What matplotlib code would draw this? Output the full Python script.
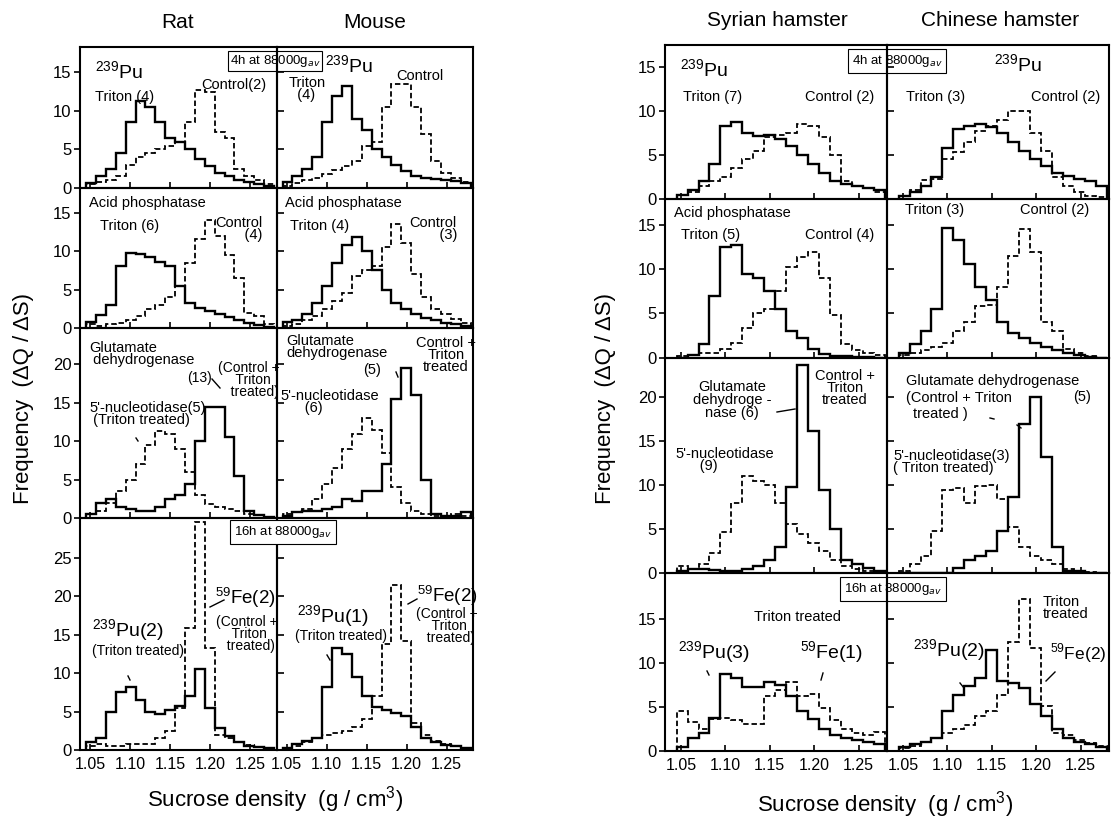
"""
Sucrose density gradient profiles: 239Pu, marker enzymes and 59Fe
for rat, mouse, Syrian hamster and Chinese hamster liver.
"""

import numpy as np
import matplotlib
matplotlib.use('Agg')
import matplotlib.pyplot as plt
from matplotlib.lines import Line2D

plt.rcParams['font.family'] = ['Liberation Sans', 'DejaVu Sans']
plt.rcParams['mathtext.fontset'] = 'custom'
plt.rcParams['mathtext.rm'] = 'Liberation Sans'

# common fraction edges (g/cm3)
edges = np.linspace(1.045, 1.28, 20)

# ---- Rat / Mouse ------------------------------------------------------
rat_pu_triton = [0.7, 1.5, 2.5, 4.5, 8.5, 11.3, 10.5, 8.5, 6.5, 6.0, 5.0, 3.8, 2.8, 2.0, 1.5, 1.0, 0.8, 0.5, 0.3]
rat_pu_control = [0.5, 0.8, 1.0, 1.5, 3.0, 4.0, 4.5, 5.0, 5.5, 6.0, 8.5, 12.7, 12.5, 7.2, 6.5, 2.5, 1.5, 1.0, 0.5]
mouse_pu_triton = [0.8, 1.5, 2.5, 4.0, 8.5, 12.0, 13.2, 9.0, 7.5, 5.0, 4.0, 3.0, 2.2, 1.5, 1.3, 1.2, 1.0, 0.9, 0.6]
mouse_pu_control = [0.3, 0.7, 1.0, 1.3, 1.8, 2.3, 2.8, 3.5, 5.5, 6.0, 10.5, 13.5, 13.5, 10.5, 7.0, 3.5, 2.0, 1.3, 0.8]

rat_acp_triton = [0.8, 1.7, 3.0, 8.0, 9.8, 9.6, 9.2, 8.6, 8.0, 5.5, 3.2, 2.6, 2.2, 1.8, 1.4, 1.0, 0.6, 0.4, 0.2]
rat_acp_control = [0.5, 0.3, 0.5, 0.7, 1.0, 1.5, 2.5, 3.0, 4.0, 5.5, 8.5, 11.5, 14.0, 12.0, 9.5, 6.5, 2.0, 1.5, 0.5]
mouse_acp_triton = [0.8, 1.0, 1.8, 3.2, 5.5, 8.5, 10.8, 11.8, 10.0, 7.5, 5.0, 3.3, 2.5, 1.8, 1.3, 1.0, 0.7, 0.5, 0.3]
mouse_acp_control = [0.3, 0.5, 1.0, 1.5, 2.5, 3.5, 4.5, 6.8, 7.5, 8.0, 10.5, 13.5, 11.0, 7.0, 4.0, 2.5, 1.8, 1.2, 0.6]

rat_gdh = [0.5, 2.0, 2.5, 1.5, 1.2, 1.0, 1.0, 1.5, 2.5, 3.0, 4.5, 10.0, 14.5, 14.5, 10.5, 5.5, 1.0, 0.4, 0.2]
rat_nuc = [0.5, 1.0, 2.0, 3.5, 5.0, 7.0, 9.5, 11.3, 11.0, 9.0, 6.0, 3.0, 1.8, 1.5, 1.2, 1.0, 0.6, 0.4, 0.2]
mouse_gdh = [0.3, 0.8, 1.0, 1.0, 1.2, 1.5, 2.5, 2.2, 3.5, 3.5, 7.0, 15.5, 19.5, 16.0, 5.0, 0.5, 0.3, 0.3, 0.8]
mouse_nuc = [0.5, 0.8, 1.2, 2.5, 4.5, 6.5, 9.0, 11.0, 13.0, 11.5, 8.5, 4.0, 2.0, 1.0, 0.5, 0.3, 0.2, 0.5, 0.3]

rat_pu16 = [1.0, 1.5, 5.0, 7.5, 8.2, 6.5, 5.0, 4.7, 5.2, 5.7, 7.0, 10.5, 5.5, 2.8, 1.8, 1.0, 0.5, 0.4, 0.3]
rat_fe16 = [0.5, 0.8, 0.5, 0.5, 0.8, 0.8, 0.8, 1.5, 2.5, 5.5, 15.8, 29.6, 13.2, 2.0, 1.5, 1.0, 0.6, 0.4, 0.2]
mouse_pu16 = [0.3, 0.8, 1.2, 1.5, 8.2, 13.3, 12.5, 9.5, 7.0, 5.6, 5.2, 4.8, 4.4, 3.0, 1.5, 1.0, 0.7, 0.5, 0.3]
mouse_fe16 = [0.2, 0.5, 1.0, 1.5, 2.0, 2.2, 2.5, 3.0, 4.0, 7.0, 13.8, 21.4, 14.2, 3.5, 2.0, 1.2, 0.8, 0.5, 0.3]

# ---- Syrian / Chinese hamster -----------------------------------------
syr_pu_triton = [0.5, 1.0, 2.0, 4.0, 8.3, 8.7, 7.5, 7.2, 7.3, 6.8, 6.0, 5.0, 4.0, 3.0, 2.0, 1.7, 1.5, 1.2, 1.0]
syr_pu_control = [0.5, 0.8, 1.5, 2.0, 2.5, 3.5, 4.5, 5.5, 7.0, 7.3, 7.5, 8.5, 8.3, 7.0, 5.0, 2.0, 1.5, 1.2, 0.8]
chi_pu_triton = [0.3, 0.8, 1.5, 2.5, 5.8, 8.0, 8.3, 8.5, 8.2, 7.5, 6.5, 5.5, 4.5, 3.8, 3.0, 2.6, 2.3, 2.0, 1.5]
chi_pu_control = [0.3, 1.0, 2.2, 2.3, 4.5, 5.3, 6.5, 7.7, 8.3, 9.0, 10.0, 10.0, 7.5, 5.5, 2.5, 1.5, 0.8, 0.4, 0.2]

syr_acp_triton = [0.0, 0.3, 1.5, 7.0, 12.6, 12.8, 9.5, 9.0, 7.5, 5.5, 3.0, 2.2, 1.0, 0.4, 0.2, 0.2, 0.1, 0.1, 0.0]
syr_acp_control = [0.2, 0.3, 0.5, 0.5, 1.0, 1.6, 3.3, 5.0, 5.5, 7.5, 10.3, 11.4, 12.0, 9.0, 4.8, 1.5, 0.8, 0.5, 0.3]
chi_acp_triton = [0.5, 1.5, 3.0, 5.5, 14.7, 13.3, 10.6, 8.0, 6.5, 4.0, 2.8, 2.2, 1.6, 1.2, 0.8, 0.5, 0.3, 0.1, 0.0]
chi_acp_control = [0.3, 0.5, 0.8, 1.2, 1.6, 3.0, 4.0, 5.9, 6.0, 8.0, 11.5, 14.6, 12.0, 4.0, 3.0, 1.0, 0.5, 0.2, 0.0]

syr_gdh = [0.3, 0.5, 0.5, 0.4, 0.3, 0.3, 0.5, 0.8, 1.5, 3.0, 9.8, 23.7, 16.2, 9.5, 5.0, 1.5, 1.0, 0.6, 0.3]
syr_nuc = [0.8, 0.5, 1.0, 2.3, 4.7, 8.0, 11.0, 10.5, 10.0, 8.0, 5.6, 4.4, 3.4, 2.5, 1.5, 0.8, 0.5, 0.3, 0.2]
chi_gdh = [0.0, 0.0, 0.0, 0.0, 0.0, 0.6, 1.5, 2.0, 2.5, 4.8, 8.6, 17.0, 20.0, 13.2, 3.0, 0.3, 0.2, 0.0, 0.0]
chi_nuc = [0.3, 1.0, 2.0, 4.8, 9.4, 9.7, 8.0, 9.9, 10.0, 8.4, 5.2, 3.0, 1.9, 1.5, 1.0, 0.5, 0.3, 0.1, 0.0]

syr_pu16 = [0.5, 1.5, 2.0, 3.8, 8.7, 8.3, 7.3, 7.3, 7.8, 7.5, 6.3, 4.6, 3.6, 2.5, 1.8, 1.5, 1.2, 1.0, 0.8]
syr_fe16 = [4.5, 3.3, 2.5, 3.6, 3.8, 3.5, 3.1, 3.1, 6.3, 6.9, 7.8, 6.2, 6.5, 4.9, 3.5, 2.5, 2.0, 1.8, 2.2]
chi_pu16 = [0.5, 0.8, 1.0, 1.5, 4.6, 6.4, 7.4, 8.3, 11.5, 7.9, 7.7, 7.2, 5.3, 4.0, 2.5, 1.5, 1.0, 0.8, 0.5]
chi_fe16 = [0.3, 0.6, 1.0, 1.5, 2.0, 2.5, 3.0, 4.0, 4.6, 6.4, 12.4, 17.3, 11.7, 5.1, 2.1, 1.8, 1.2, 0.9, 0.6]

# axis ranges and ticks
x_ticks = [1.05, 1.10, 1.15, 1.20, 1.25]
left_tops = [18.3, 18.2, 24.7, 30.1]
right_tops = [17.5, 18.0, 24.5, 20.2]
left_ylabel_ticks = [[0, 5, 10, 15], [0, 5, 10, 15], [0, 5, 10, 15, 20], [0, 5, 10, 15, 20, 25]]
right_ylabel_ticks = [[0, 5, 10, 15], [0, 5, 10, 15], [0, 5, 10, 15, 20], [0, 5, 10, 15]]

W, H = 1111, 823
DASH = (0, (3.0, 1.6))
TXT = 10.5   # annotation size
ISO = 14     # isotope label size


def fx(x):
    return x / W


def fy(y):
    return 1 - y / H


def put(fig, x, y, s, size=TXT, ha='center', va='center', **kw):
    """Place text at a position given in reference pixels."""
    fig.text(fx(x), fy(y), s, fontsize=size, ha=ha, va=va, **kw)


def tick(fig, x0, y0, x1, y1):
    """Small pointer stroke, reference pixels."""
    fig.add_artist(Line2D([fx(x0), fx(x1)], [fy(y0), fy(y1)], color='black', lw=1.0))


def draw_group(fig, box, tops, ytick_sets, panels, xlim):
    """Draw a 4x2 block of histogram panels sharing the x axis."""
    l, r, t, b = box
    gs = fig.add_gridspec(4, 2, left=fx(l), right=fx(r), top=fy(t), bottom=fy(b),
                          hspace=0, wspace=0, height_ratios=tops)
    for row in range(4):
        for col in range(2):
            ax = fig.add_subplot(gs[row, col])
            ax.patch.set_alpha(0)
            solid, dashed = panels[row][col]
            ax.stairs(dashed, edges, baseline=0, color='black', lw=1.3, linestyle=DASH)
            ax.stairs(solid, edges, baseline=0, color='black', lw=1.7)
            ax.set_xlim(*xlim)
            ax.set_ylim(0, tops[row])
            ax.set_xticks(x_ticks)
            ax.set_yticks(ytick_sets[row])
            for sp in ax.spines.values():
                sp.set_linewidth(1.5)
            ax.tick_params(axis='x', direction='in', length=4, width=1.2,
                           labelsize=11.5, pad=5)
            if row < 3:
                ax.tick_params(axis='x', labelbottom=False)
            else:
                ax.set_xticklabels(['%.2f' % v for v in x_ticks])
            if col == 0:
                ax.tick_params(axis='y', direction='out', length=4, width=1.2,
                               labelsize=12, pad=2)
            else:
                ax.tick_params(axis='y', direction='in', length=5, width=1.2,
                               labelleft=False)


def main():
    fig = plt.figure(figsize=(W / 100, H / 100), dpi=100)

    left_panels = [
        [(rat_pu_triton, rat_pu_control), (mouse_pu_triton, mouse_pu_control)],
        [(rat_acp_triton, rat_acp_control), (mouse_acp_triton, mouse_acp_control)],
        [(rat_gdh, rat_nuc), (mouse_gdh, mouse_nuc)],
        [(rat_pu16, rat_fe16), (mouse_pu16, mouse_fe16)],
    ]
    right_panels = [
        [(syr_pu_triton, syr_pu_control), (chi_pu_triton, chi_pu_control)],
        [(syr_acp_triton, syr_acp_control), (chi_acp_triton, chi_acp_control)],
        [(syr_gdh, syr_nuc), (chi_gdh, chi_nuc)],
        [(syr_pu16, syr_fe16), (chi_pu16, chi_fe16)],
    ]
    draw_group(fig, (80, 473, 47, 750), left_tops, left_ylabel_ticks, left_panels, (1.0375, 1.283))
    draw_group(fig, (665, 1109, 45, 751), right_tops, right_ylabel_ticks, right_panels, (1.032, 1.282))

    # column titles and axis labels
    put(fig, 178, 22, 'Rat', 15)
    put(fig, 375, 22, 'Mouse', 15)
    put(fig, 777, 20, 'Syrian hamster', 15)
    put(fig, 1000, 20, 'Chinese hamster', 15)
    put(fig, 24, 398, 'Frequency  (ΔQ / ΔS)', 16, rotation=90)
    put(fig, 606, 398, 'Frequency  (ΔQ / ΔS)', 16, rotation=90)
    put(fig, 275, 800, 'Sucrose density  (g / cm$^3$)', 16)
    put(fig, 885, 805, 'Sucrose density  (g / cm$^3$)', 16)

    # Rat / Mouse, 4 h
    put(fig, 95, 72, '$^{239}$Pu', ISO, ha='left')
    put(fig, 125, 97, 'Triton (4)')
    put(fig, 234, 85, 'Control(2)')
    put(fig, 275, 61, '4h at 88000g$_{av}$', 9.5,
        bbox=dict(boxstyle='square,pad=0.15', fc='none', ec='black', lw=0.8))
    put(fig, 349, 66, '$^{239}$Pu', ISO)
    put(fig, 289, 89, 'Triton\n  (4)', ha='left', linespacing=0.9)
    put(fig, 420, 76, 'Control')

    put(fig, 89, 203, 'Acid phosphatase', ha='left')
    put(fig, 130, 226, 'Triton (6)')
    put(fig, 262, 229, 'Control\n    (4)', ha='right', linespacing=0.9)
    put(fig, 285, 203, 'Acid phosphatase', ha='left')
    put(fig, 320, 226, 'Triton (4)')
    put(fig, 457, 229, 'Control\n    (3)', ha='right', linespacing=0.9)

    put(fig, 89, 354, 'Glutamate\n dehydrogenase', ha='left', linespacing=0.9)
    put(fig, 200, 378, '(13)', 10)
    tick(fig, 212, 379, 220, 388)
    put(fig, 249, 380, '(Control +\n  Triton\n   treated)', 10, linespacing=0.85)
    put(fig, 89, 414, "5'-nucleotidase(5)\n (Triton treated)", ha='left', linespacing=0.9)
    tick(fig, 136, 438, 138, 441)
    put(fig, 286, 347, 'Glutamate\ndehydrogenase', ha='left', linespacing=0.9)
    put(fig, 372, 370, '(5)')
    tick(fig, 396, 372, 398, 377)
    put(fig, 446, 355, 'Control +\nTriton\ntreated', linespacing=0.85)
    put(fig, 280, 402, "5'-nucleotidase\n      (6)", ha='left', linespacing=0.9)

    # Rat / Mouse, 16 h
    put(fig, 283, 532, '16h at 88000g$_{av}$', 9.5,
        bbox=dict(boxstyle='square,pad=0.3', fc='white', ec='black', lw=0.8))
    put(fig, 92, 631, '$^{239}$Pu(2)', ISO, ha='left')
    put(fig, 92, 651, '(Triton treated)', 10, ha='left')
    tick(fig, 128, 676, 130, 680)
    put(fig, 215, 598, '$^{59}$Fe(2)', 13.5, ha='left')
    tick(fig, 210, 607, 224, 600)
    put(fig, 247, 634, '(Control +\n Triton\n  treated)', 10, linespacing=0.85)
    put(fig, 297, 617, '$^{239}$Pu(1)', ISO, ha='left')
    put(fig, 295, 636, '(Triton treated)', 10, ha='left')
    tick(fig, 327, 655, 330, 660)
    put(fig, 417, 596, '$^{59}$Fe(2)', 13.5, ha='left')
    tick(fig, 408, 604, 417, 599)
    put(fig, 447, 626, '(Control +\n Triton\n  treated)', 10, linespacing=0.85)

    # Syrian / Chinese hamster, 4 h
    put(fig, 680, 70, '$^{239}$Pu', ISO, ha='left')
    put(fig, 713, 97, 'Triton (7)')
    put(fig, 840, 97, 'Control (2)')
    put(fig, 897, 61, '4h at 88000g$_{av}$', 9.5,
        bbox=dict(boxstyle='square,pad=0.3', fc='none', ec='black', lw=0.8))
    put(fig, 1018, 65, '$^{239}$Pu', ISO)
    put(fig, 936, 97, 'Triton (3)')
    put(fig, 1066, 97, 'Control (2)')

    put(fig, 674, 213, 'Acid phosphatase', ha='left')
    put(fig, 711, 235, 'Triton (5)')
    put(fig, 840, 235, 'Control (4)')
    put(fig, 935, 210, 'Triton (3)')
    put(fig, 1055, 210, 'Control (2)')

    put(fig, 732, 400, 'Glutamate\ndehydroge -\nnase (6)', linespacing=0.9)
    tick(fig, 777, 412, 795, 409)
    put(fig, 845, 388, 'Control +\nTriton\ntreated', linespacing=0.85)
    put(fig, 675, 460, "5'-nucleotidase\n      (9)", ha='left', linespacing=0.9)
    put(fig, 906, 381, 'Glutamate dehydrogenase', ha='left')
    put(fig, 906, 398, '(Control + Triton', ha='left')
    put(fig, 1082, 397, '(5)')
    put(fig, 913, 414, 'treated )', ha='left')
    tick(fig, 990, 418, 994, 419)
    tick(fig, 1017, 425, 1021, 428)
    put(fig, 893, 462, "5'-nucleotidase(3)\n( Triton treated)", ha='left', linespacing=0.9)

    # Syrian / Chinese hamster, 16 h
    put(fig, 893, 589, '16h at 88000g$_{av}$', 9.5,
        bbox=dict(boxstyle='square,pad=0.3', fc='none', ec='black', lw=0.8))
    put(fig, 797, 617, 'Triton treated')
    put(fig, 678, 653, '$^{239}$Pu(3)', ISO, ha='left')
    tick(fig, 707, 671, 709, 675)
    put(fig, 800, 653, '$^{59}$Fe(1)', ISO, ha='left')
    tick(fig, 823, 673, 821, 680)
    put(fig, 1043, 608, 'Triton\ntreated', ha='left', linespacing=0.9)
    put(fig, 913, 651, '$^{239}$Pu(2)', ISO, ha='left')
    tick(fig, 960, 683, 964, 688)
    put(fig, 1050, 653, '$^{59}$Fe(2)', 12.5, ha='left')
    tick(fig, 1046, 681, 1055, 672)

    fig.savefig('out.png', dpi=100, facecolor='white')


if __name__ == '__main__':
    main()
